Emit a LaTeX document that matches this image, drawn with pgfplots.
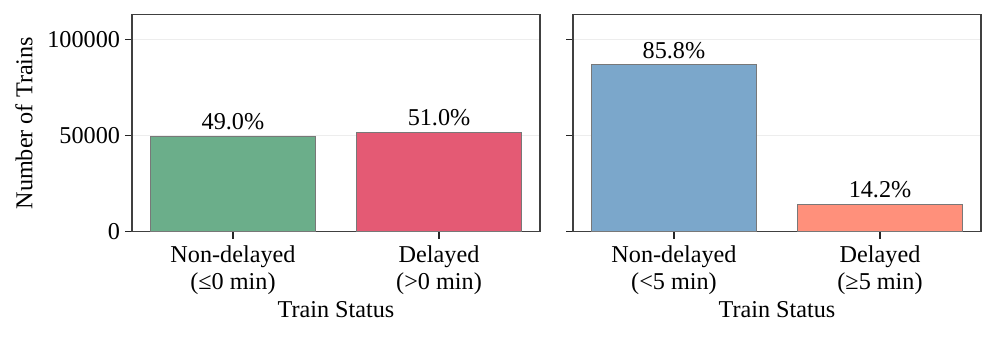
\documentclass[border=0pt]{standalone}
\usepackage{fontspec}
\setmainfont{Liberation Serif}
\usepackage{pgfplots}
\pgfplotsset{compat=1.18}

\definecolor{bargreen}{RGB}{107,174,138}
\definecolor{barred}{RGB}{228,90,116}
\definecolor{barblue}{RGB}{123,167,203}
\definecolor{barsalmon}{RGB}{255,144,123}
\definecolor{edgegray}{RGB}{120,120,120}

\newcommand{\chartfont}{\fontsize{24.2}{27}\selectfont}

\pgfplotsset{
  trainbase/.style={
    scale only axis, width=408pt, height=217pt,
    xmin=-0.49, xmax=1.49, ymin=0, ymax=112800,
    xtick={0,1}, ytick={0,50000,100000},
    tick align=outside, major tick length=7pt,
    xtick pos=bottom, ytick pos=left,
    ymajorgrids, grid style={line width=0.8pt, color=black!7},
    axis line style={line width=1.1pt, color=black!75},
    tick style={line width=1.1pt, color=black!85},
    ticklabel style={font=\chartfont},
    xticklabel style={align=center, anchor=base, yshift=-50.6pt},
    yticklabel style={xshift=-1.5pt},
    scaled y ticks=false,
    yticklabel style={/pgf/number format/fixed, /pgf/number format/1000 sep={}},
    /pgf/number format/assume math mode=true,
    xlabel={Train Status},
    every axis x label/.style={font=\chartfont, at={(axis description cs:0.5,0)}, anchor=base, yshift=-85.6pt},
    every axis y label/.style={font=\chartfont, at={(axis description cs:0,0.5)}, xshift=-108pt, rotate=90, anchor=center},
    nodes near coords style={font=\chartfont, anchor=base, yshift=6.5pt, text=black},
    every axis plot/.append style={ybar, bar shift=0pt, bar width=0.8, draw=edgegray, line width=0.8pt},
  }
}

\begin{document}
\begin{tikzpicture}
\useasboundingbox (-132pt,-106.3pt) rectangle (864pt,231.7pt);

% left panel: 0 min threshold
\begin{axis}[trainbase,
    at={(0pt,0pt)}, anchor=south west,
    xticklabels={{Non-delayed\\(≤0 min)},{Delayed\\(>0 min)}},
    ylabel={Number of Trains},
  ]
  \addplot[fill=bargreen, nodes near coords, point meta=explicit symbolic]
    coordinates {(0,49571) [49.0\%]};
  \addplot[fill=barred, nodes near coords, point meta=explicit symbolic]
    coordinates {(1,51595) [51.0\%]};
\end{axis}

% right panel: 5 min threshold
\begin{axis}[trainbase,
    at={(441pt,0pt)}, anchor=south west,
    xticklabels={{Non-delayed\\(<5 min)},{Delayed\\(≥5 min)}},
    yticklabels={},
  ]
  \addplot[fill=barblue, nodes near coords, point meta=explicit symbolic]
    coordinates {(0,86800) [85.8\%]};
  \addplot[fill=barsalmon, nodes near coords, point meta=explicit symbolic]
    coordinates {(1,14366) [14.2\%]};
\end{axis}
\end{tikzpicture}
\end{document}
